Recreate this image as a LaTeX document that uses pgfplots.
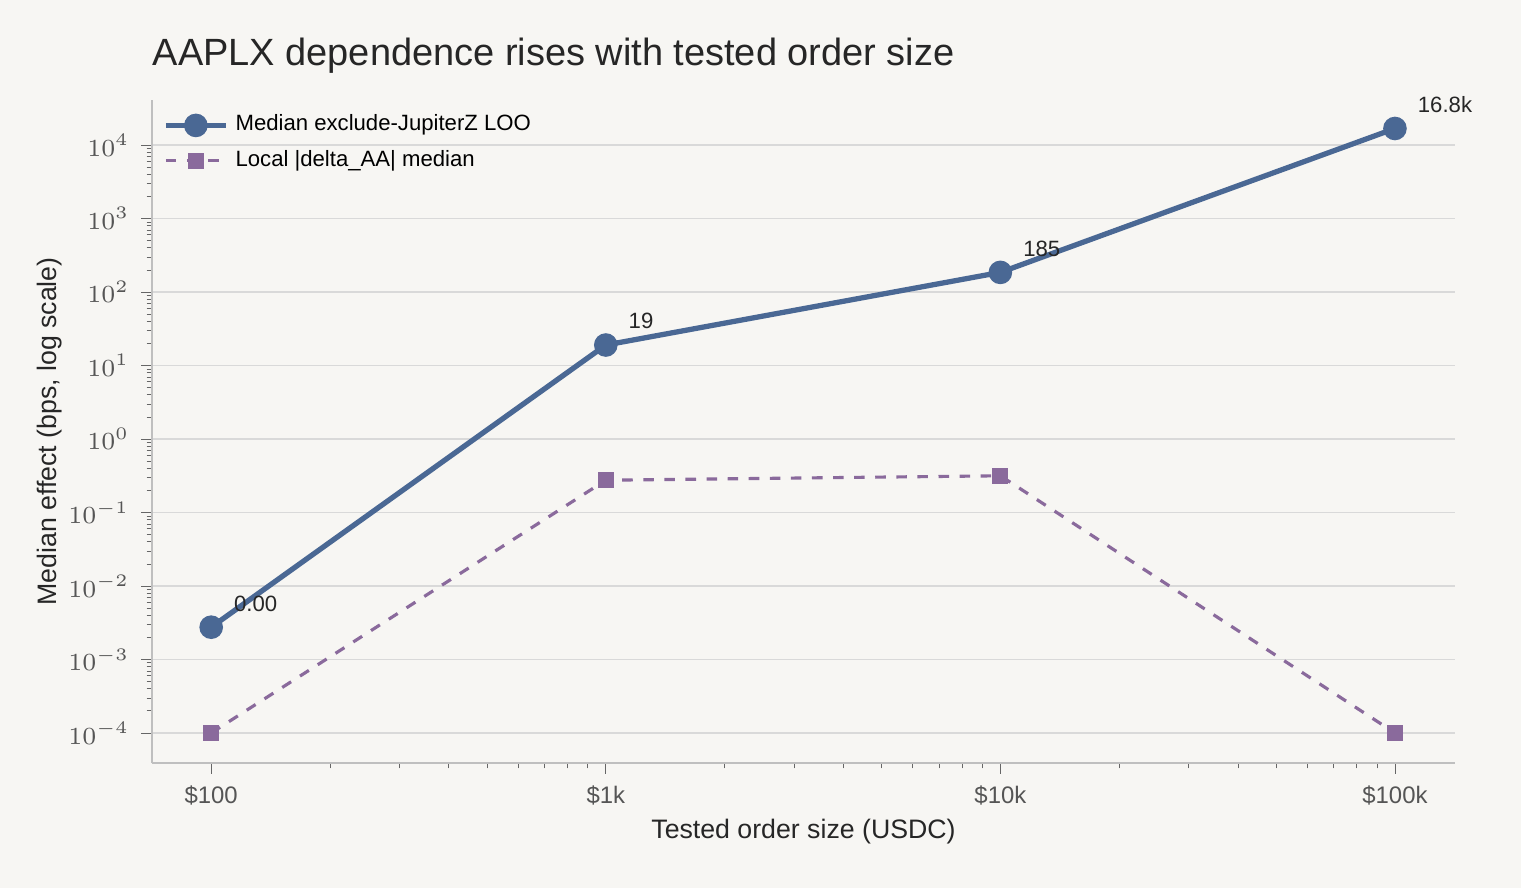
\documentclass[border=0pt]{standalone}
\usepackage{pgfplots}
\pgfplotsset{compat=1.18}
\usepackage{fontspec}
\setmainfont{Liberation Sans}
\definecolor{bg}{HTML}{F7F6F3}
\definecolor{cblue}{HTML}{4A6894}
\definecolor{cpurp}{HTML}{8A6A9C}
\definecolor{tgray}{HTML}{555555}
\begin{document}
\begin{tikzpicture}
\fill[bg] (-1.52cm,-1.25cm) rectangle (13.69cm,7.63cm);
\begin{axis}[at={(0,0)},anchor=south west,scale only axis,
 width=13.03cm,height=6.63cm,
 xmode=log,ymode=log,xmin=70.8,xmax=142000,ymin=3.9e-5,ymax=4.1e4,
 axis lines*=left, axis line style={draw=black!25},
 xtick={100,1000,10000,100000},xticklabels={\$100,\$1k,\$10k,\$100k},
 ytick={1e-4,1e-3,1e-2,1e-1,1,10,100,1000,10000},
 yticklabels={$10^{-4}$,$10^{-3}$,$10^{-2}$,$10^{-1}$,$10^{0}$,$10^{1}$,$10^{2}$,$10^{3}$,$10^{4}$},
 /pgf/number format/assume math mode=true,
 tick style={draw=black!60}, tick align=outside,
 major tick length=3pt, minor tick length=1.5pt,
 ticklabel style={font=\fontsize{6.8}{8}\selectfont,text=tgray},
 ymajorgrids, grid style={draw=black!15,line width=0.4pt},
 xlabel={Tested order size (USDC)}, ylabel={Median effect (bps, log scale)},
 label style={font=\fontsize{7.6}{9}\selectfont,text=black!85},
 xlabel style={yshift=3pt}, ylabel style={yshift=-5pt},
 legend style={draw=none,fill=none,at={(0.0,1.0)},anchor=north west,
   font=\fontsize{6.3}{7}\selectfont,row sep=0pt},
 legend cell align=left,
 clip=false,
]
\addplot[cblue,line width=1.5pt,mark=*,mark size=2.6pt] coordinates {(100,0.00275)(1000,19)(10000,185)(100000,16800)};
\addlegendentry{Median exclude-JupiterZ LOO}
\addplot[cpurp,line width=0.9pt,dashed,mark=square*,mark size=1.8pt,mark options={solid}] coordinates {(100,1e-4)(1000,0.275)(10000,0.316)(100000,1e-4)};
\addlegendentry{Local |delta\_AA| median}
\tikzset{lab/.style={font=\fontsize{6.3}{7}\selectfont,text=black!85,anchor=south west,xshift=3pt,yshift=1pt}}
\node[lab] at (axis cs:100,0.00275) {0.00};
\node[lab] at (axis cs:1000,19) {19};
\node[lab] at (axis cs:10000,185) {185};
\node[lab] at (axis cs:100000,16800) {16.8k};
\end{axis}
\node[anchor=base west,inner sep=0pt,font=\fontsize{10.8}{13}\selectfont,text=black!85] at (0.0cm,6.98cm) {AAPLX dependence rises with tested order size};
\end{tikzpicture}
\end{document}
